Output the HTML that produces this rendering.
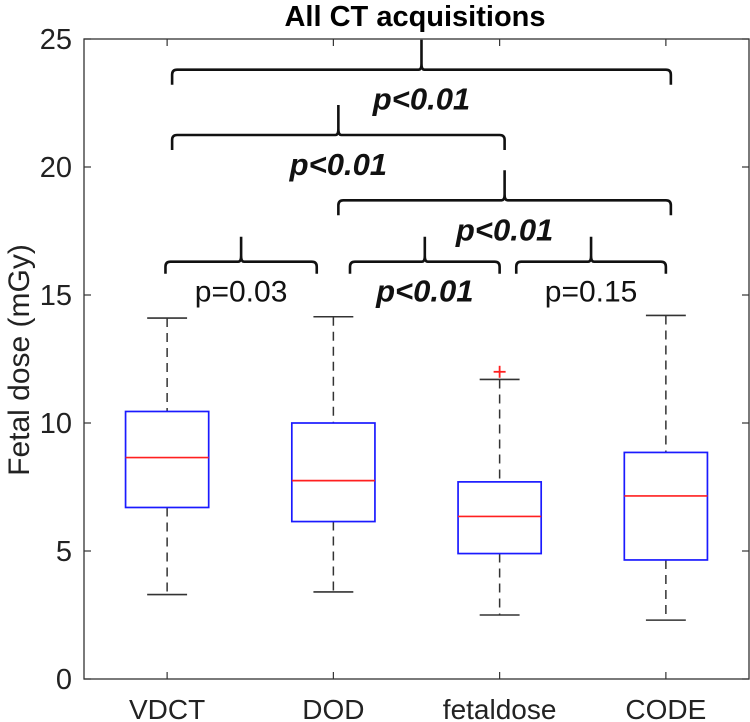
<!DOCTYPE html>
<html><head><meta charset="utf-8"><style>
html,body{margin:0;padding:0;background:#fff;}
svg{display:block;font-family:"Liberation Sans",sans-serif;}
</style></head><body>
<svg id="chart" width="750" height="722" viewBox="0 0 750 722">
<g id="layer"></g>
</svg>
<script>
const categories = ["VDCT", "DOD", "fetaldose", "CODE"];
const whiskerLow = [3.3, 3.4, 2.5, 2.3];
const q1Values = [6.7, 6.15, 4.9, 4.65];
const medianValues = [8.65, 7.75, 6.35, 7.15];
const q3Values = [10.45, 10.0, 7.7, 8.85];
const whiskerHigh = [14.1, 14.15, 11.7, 14.2];
const outlierCat = [3];
const outlierVal = [12.0];
const yTicks = [0, 5, 10, 15, 20, 25];
const bracketFrom = [1, 1, 2, 1, 2, 3];
const bracketTo = [4, 3, 4, 2, 3, 4];
const bracketLevel = [23.8, 21.25, 18.7, 16.3, 16.3, 16.3];
const bracketLabel = ["p<0.01", "p<0.01", "p<0.01", "p=0.03", "p<0.01", "p=0.15"];
const bracketBold = [true, true, true, false, true, false];

const L = 84, R = 749, T = 39, B = 679;
const ymax = 25;
const sx = c => L + (c - 0.5) * (R - L) / 4;
const sy = v => B - v * (B - T) / ymax;
const ppu = (R - L) / 4;
const NS = "http://www.w3.org/2000/svg";
const layer = document.getElementById("layer");
function mk(tag, attrs, parent) {
  const e = document.createElementNS(NS, tag);
  for (const k in attrs) e.setAttribute(k, attrs[k]);
  (parent || layer).appendChild(e);
  return e;
}

let t = mk("text", {x: 415, y: 26, "text-anchor": "middle", "font-size": 29, "font-weight": "bold"});
t.textContent = "All CT acquisitions";



let box = mk("rect", {x: L, y: T, width: R - L, height: B - T, fill: "none", stroke: "#333", "stroke-width": 1.3});



yTicks.forEach(v => {
  const y = sy(v);
  mk("line", {x1: L, x2: L + 7, y1: y, y2: y, stroke: "#333", "stroke-width": 1.2});
  mk("line", {x1: R - 7, x2: R, y1: y, y2: y, stroke: "#333", "stroke-width": 1.2});
  const lb = mk("text", {x: L - 12, y: y + 10, "text-anchor": "end", "font-size": 29, fill: "#222"});
  lb.textContent = v;
  
  
});
let yt = mk("text", {x: 0, y: 0, "text-anchor": "middle", "font-size": 30, fill: "#222", transform: "translate(29,360) rotate(-90)"});
yt.textContent = "Fetal dose (mGy)";



categories.forEach((c, i) => {
  const x = sx(i + 1);
  mk("line", {x1: x, x2: x, y1: B, y2: B - 7, stroke: "#333", "stroke-width": 1.2});
  mk("line", {x1: x, x2: x, y1: T, y2: T + 7, stroke: "#333", "stroke-width": 1.2});
  const lb = mk("text", {x: x, y: B + 40, "text-anchor": "middle", "font-size": 28, fill: "#222"});
  lb.textContent = c;
  
  

  const g = mk("g", {});
  
  
  const hw = 0.25 * ppu, cw = 0.12 * ppu;
  mk("line", {x1: x, x2: x, y1: sy(whiskerHigh[i]), y2: sy(q3Values[i]), stroke: "#333", "stroke-width": 1.5, "stroke-dasharray": "9,6"}, g);
  mk("line", {x1: x, x2: x, y1: sy(q1Values[i]), y2: sy(whiskerLow[i]), stroke: "#333", "stroke-width": 1.5, "stroke-dasharray": "9,6"}, g);
  mk("line", {x1: x - cw, x2: x + cw, y1: sy(whiskerHigh[i]), y2: sy(whiskerHigh[i]), stroke: "#333", "stroke-width": 1.6}, g);
  mk("line", {x1: x - cw, x2: x + cw, y1: sy(whiskerLow[i]), y2: sy(whiskerLow[i]), stroke: "#333", "stroke-width": 1.6}, g);
  mk("rect", {x: x - hw, y: sy(q3Values[i]), width: 2 * hw, height: sy(q1Values[i]) - sy(q3Values[i]), fill: "#fff", stroke: "#1a1aff", "stroke-width": 1.7}, g);
  mk("line", {x1: x - hw, x2: x + hw, y1: sy(medianValues[i]), y2: sy(medianValues[i]), stroke: "#ff2020", "stroke-width": 1.7}, g);
});
outlierCat.forEach((c, i) => {
  const x = sx(c), y = sy(outlierVal[i]);
  const g = mk("g", {stroke: "#ff2020", "stroke-width": 1.8});
  
  
  mk("line", {x1: x - 6, x2: x + 6, y1: y, y2: y}, g);
  mk("line", {x1: x, x2: x, y1: y - 6, y2: y + 6}, g);
});

bracketFrom.forEach((f, i) => {
  let xa = sx(f), xb = sx(bracketTo[i]);
  if (bracketTo[i] - f === 1) {
    if (f === 1) { xa = sx(1) - 0.01 * ppu; xb = sx(2) - 0.1 * ppu; }
    else if (f === 2) { xa = sx(2) + 0.1 * ppu; xb = sx(3); }
    else { xa = sx(3) + 0.1 * ppu; xb = sx(4); }
  } else { xa += 0.03 * ppu; xb += 0.03 * ppu; }
  const y = sy(bracketLevel[i]);
  const drop = bracketTo[i] - f === 1 ? 12 : 15;
  const peak = bracketTo[i] - f === 1 ? 25 : 30;
  const xm = (xa + xb) / 2;
  const r = 5;
  const d = `M${xa},${y + drop} L${xa},${y + r} Q${xa},${y} ${xa + r},${y} L${xm - 3},${y} Q${xm},${y} ${xm},${y - 6} L${xm},${y - peak} M${xm},${y - 6} Q${xm},${y} ${xm + 3},${y} L${xb - r},${y} Q${xb},${y} ${xb},${y + r} L${xb},${y + drop}`;
  const p = mk("path", {d: d, fill: "none", stroke: "#111", "stroke-width": 2.6});
  
  
  const lb = mk("text", {x: xm, y: y + 40, "text-anchor": "middle", "font-size": bracketBold[i] ? 31 : 30,
    "font-weight": bracketBold[i] ? "bold" : "normal", "font-style": bracketBold[i] ? "italic" : "normal", fill: "#111"});
  lb.textContent = bracketLabel[i];
  
  
});
</script>
</body></html>
